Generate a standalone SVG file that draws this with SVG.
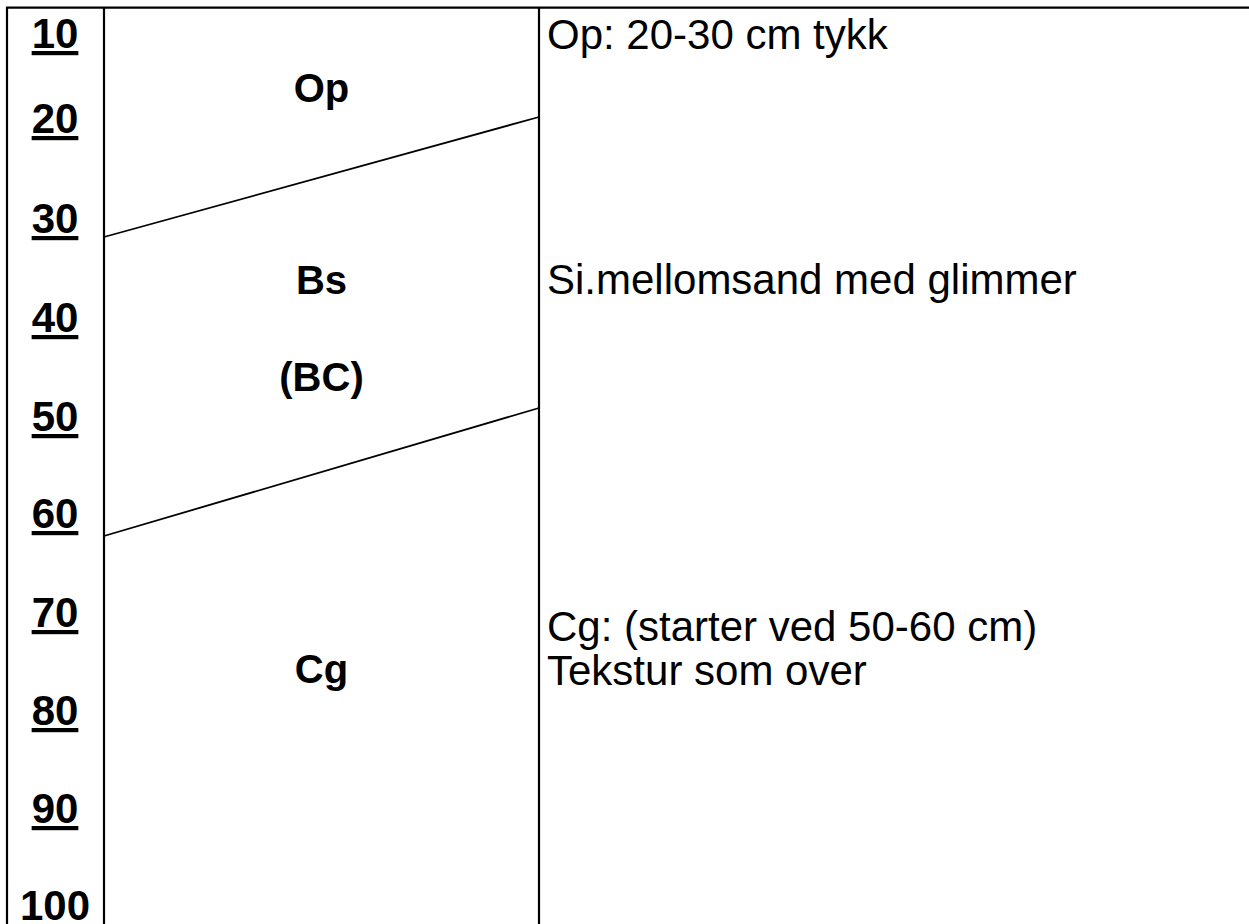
<svg xmlns="http://www.w3.org/2000/svg" width="1249" height="924" viewBox="0 0 1249 924">
<style>
.num{font-family:"Liberation Sans",Arial,sans-serif;font-weight:bold;font-size:42px;text-anchor:middle;fill:#000}
.u{text-decoration:underline}
.hz{font-family:"Liberation Sans",Arial,sans-serif;font-weight:bold;font-size:40px;text-anchor:middle;fill:#000}
.desc{font-family:"Liberation Sans",Arial,sans-serif;font-size:42px;fill:#000}
.border{stroke:#000;stroke-width:2.2;fill:none}
.bound{stroke:#000;stroke-width:1.8;fill:none}
</style>
<rect width="1249" height="924" fill="#fff"/>
<g id="table">
<line class="border" x1="6" y1="7.7" x2="1249" y2="7.7"/>
<line class="border" x1="7" y1="7" x2="7" y2="924"/>
<line class="border" x1="104" y1="7" x2="104" y2="924"/>
<line class="border" x1="539" y1="7" x2="539" y2="924"/>
</g>
<g id="connectors">
<line class="bound" x1="104" y1="237" x2="539" y2="117"/>
<line class="bound" x1="104" y1="536" x2="539" y2="408"/>
</g>
<g id="depth-scale">
<text class="num u" x="55" y="48">10</text>
<text class="num u" x="55" y="133">20</text>
<text class="num u" x="55" y="233">30</text>
<text class="num u" x="55" y="332">40</text>
<text class="num u" x="55" y="431">50</text>
<text class="num u" x="55" y="528">60</text>
<text class="num u" x="55" y="627">70</text>
<text class="num u" x="55" y="725">80</text>
<text class="num u" x="55" y="823">90</text>
<text class="num" x="55" y="920">100</text>
</g>
<g id="horizon-Op"><text class="hz" x="321.5" y="102">Op</text></g>
<g id="horizon-Bs"><text class="hz" x="321.5" y="294">Bs</text><text class="hz" x="321.5" y="391">(BC)</text></g>
<g id="horizon-Cg"><text class="hz" x="321.5" y="683">Cg</text></g>
<g id="desc-Op"><text class="desc" x="547" y="49">Op: 20-30 cm tykk</text></g>
<g id="desc-Bs"><text class="desc" x="547" y="294">Si.mellomsand med glimmer</text></g>
<g id="desc-Cg"><text class="desc" x="547" y="641">Cg: (starter ved 50-60 cm)</text><text class="desc" x="547" y="685">Tekstur som over</text></g>
</svg>
